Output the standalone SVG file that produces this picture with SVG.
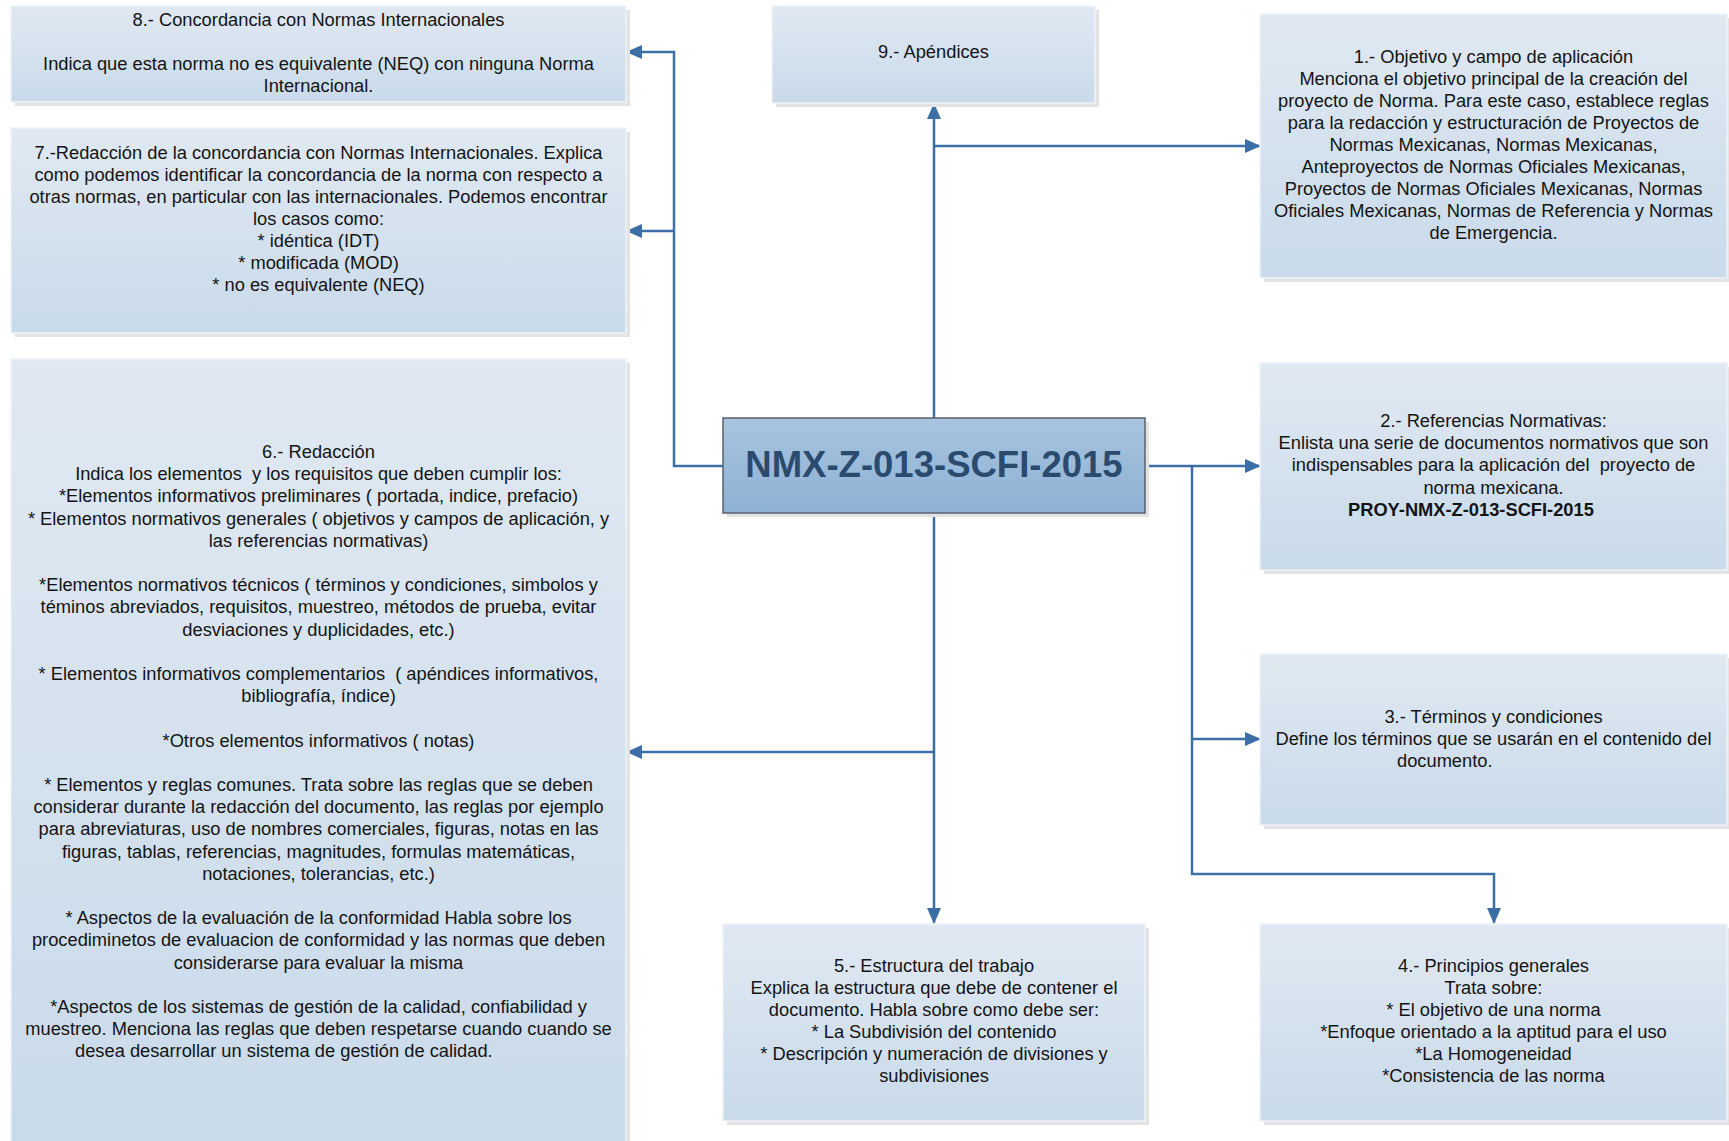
<svg xmlns="http://www.w3.org/2000/svg" width="1729" height="1141" viewBox="0 0 1729 1141">
  <defs>
    <linearGradient id="boxFill" x1="0" y1="0" x2="0" y2="1">
      <stop offset="0" stop-color="#e0e9f2"/>
      <stop offset="1" stop-color="#c9daea"/>
    </linearGradient>
    <linearGradient id="hubFill" x1="0" y1="0" x2="0" y2="1">
      <stop offset="0" stop-color="#a8c4df"/>
      <stop offset="1" stop-color="#8db1d4"/>
    </linearGradient>
    <marker id="arrow" markerUnits="userSpaceOnUse" markerWidth="16" markerHeight="16" viewBox="0 0 16 16" refX="15" refY="8" orient="auto">
      <path d="M0,1 L16,8 L0,15 Z" fill="#3d6fa6"/>
    </marker>
  </defs>
  <style>
    .shadow { fill: #e3e3e3; }
    .box { fill: url(#boxFill); stroke: #eef3f9; stroke-width: 1.5; }
    .hub { fill: url(#hubFill); stroke: #58616d; stroke-width: 1.5; }
    .t { font-family: "Liberation Sans", Arial, sans-serif; font-size: 18.3px; fill: #141414; text-anchor: middle; white-space: pre; }
    .ts { text-anchor: start; }
    .b { font-weight: bold; }
    .title { font-family: "Liberation Sans", Arial, sans-serif; font-size: 36.5px; font-weight: bold; fill: #2a4b6e; text-anchor: middle; }
    .link { fill: none; stroke: #3d6fa6; stroke-width: 2.5; }
  </style>

  <rect width="1729" height="1141" fill="#ffffff"/>

  <!-- connectors -->
  <g id="connectors">
    <path class="link" d="M723 466 H674 V52 H627" marker-end="url(#arrow)"/>
    <path class="link" d="M674 231 H627" marker-end="url(#arrow)"/>
    <path class="link" d="M934 418 V104" marker-end="url(#arrow)"/>
    <path class="link" d="M934 146 H1260" marker-end="url(#arrow)"/>
    <path class="link" d="M934 513 V923" marker-end="url(#arrow)"/>
    <path class="link" d="M934 752 H627" marker-end="url(#arrow)"/>
    <path class="link" d="M1145 466 H1260" marker-end="url(#arrow)"/>
    <path class="link" d="M1192 466 V874 H1494 V923" marker-end="url(#arrow)"/>
    <path class="link" d="M1192 739 H1260" marker-end="url(#arrow)"/>
  </g>

  <!-- central node -->
  <g id="hub">
    <rect class="shadow" x="727" y="422" width="422" height="95"/>
    <rect class="hub" x="723" y="418" width="422" height="95"/>
    <text class="title" x="934" y="477">NMX-Z-013-SCFI-2015</text>
  </g>

  <!-- 8: international concordance -->
  <g id="node8">
    <rect class="shadow" x="15" y="10" width="615" height="96"/>
    <rect class="box" x="11" y="6" width="615" height="96"/>
    <text class="t" x="318.5" y="26">8.- Concordancia con Normas Internacionales</text>
    <text class="t" x="318.5" y="70">Indica que esta norma no es equivalente (NEQ) con ninguna Norma</text>
    <text class="t" x="318.5" y="92">Internacional.</text>
  </g>

  <!-- 7: writing the concordance -->
  <g id="node7">
    <rect class="shadow" x="15" y="132" width="615" height="205"/>
    <rect class="box" x="11" y="128" width="615" height="205"/>
    <text class="t" x="318.5" y="158.5">7.-Redacción de la concordancia con Normas Internacionales. Explica</text>
    <text class="t" x="318.5" y="180.6">como podemos identificar la concordancia de la norma con respecto a</text>
    <text class="t" x="318.5" y="202.6">otras normas, en particular con las internacionales. Podemos encontrar</text>
    <text class="t" x="318.5" y="224.7">los casos como:</text>
    <text class="t" x="318.5" y="246.7">* idéntica (IDT)</text>
    <text class="t" x="318.5" y="268.8">* modificada (MOD)</text>
    <text class="t" x="318.5" y="290.8">* no es equivalente (NEQ)</text>
  </g>

  <!-- 6: drafting -->
  <g id="node6">
    <rect class="shadow" x="15" y="363" width="615" height="790"/>
    <rect class="box" x="11" y="359" width="615" height="790"/>
    <text class="t" x="318.5" y="458">6.- Redacción</text>
    <text class="t" x="318.5" y="480.2">Indica los elementos  y los requisitos que deben cumplir los:</text>
    <text class="t" x="318.5" y="502.4">*Elementos informativos preliminares ( portada, indice, prefacio)</text>
    <text class="t" x="318.5" y="524.6">* Elementos normativos generales ( objetivos y campos de aplicación, y</text>
    <text class="t" x="318.5" y="546.8">las referencias normativas)</text>
    <text class="t" x="318.5" y="591.2">*Elementos normativos técnicos ( términos y condiciones, simbolos y</text>
    <text class="t" x="318.5" y="613.4">téminos abreviados, requisitos, muestreo, métodos de prueba, evitar</text>
    <text class="t" x="318.5" y="635.6">desviaciones y duplicidades, etc.)</text>
    <text class="t" x="318.5" y="680">* Elementos informativos complementarios  ( apéndices informativos,</text>
    <text class="t" x="318.5" y="702.2">bibliografía, índice)</text>
    <text class="t" x="318.5" y="746.6">*Otros elementos informativos ( notas)</text>
    <text class="t" x="318.5" y="791">* Elementos y reglas comunes. Trata sobre las reglas que se deben</text>
    <text class="t" x="318.5" y="813.2">considerar durante la redacción del documento, las reglas por ejemplo</text>
    <text class="t" x="318.5" y="835.4">para abreviaturas, uso de nombres comerciales, figuras, notas en las</text>
    <text class="t" x="318.5" y="857.6">figuras, tablas, referencias, magnitudes, formulas matemáticas,</text>
    <text class="t" x="318.5" y="879.8">notaciones, tolerancias, etc.)</text>
    <text class="t" x="318.5" y="924.2">* Aspectos de la evaluación de la conformidad Habla sobre los</text>
    <text class="t" x="318.5" y="946.4">procediminetos de evaluacion de conformidad y las normas que deben</text>
    <text class="t" x="318.5" y="968.6">considerarse para evaluar la misma</text>
    <text class="t" x="318.5" y="1013">*Aspectos de los sistemas de gestión de la calidad, confiabilidad y</text>
    <text class="t" x="318.5" y="1035.2">muestreo. Menciona las reglas que deben respetarse cuando cuando se</text>
    <text class="t ts" x="75" y="1057.4">desea desarrollar un sistema de gestión de calidad.</text>
  </g>

  <!-- 9: appendices -->
  <g id="node9">
    <rect class="shadow" x="776" y="10" width="323" height="97"/>
    <rect class="box" x="772" y="6" width="323" height="97"/>
    <text class="t" x="933.5" y="58">9.- Apéndices</text>
  </g>

  <!-- 1: objective and scope -->
  <g id="node1">
    <rect class="shadow" x="1264" y="18" width="467" height="264"/>
    <rect class="box" x="1260" y="14" width="467" height="264"/>
    <text class="t" x="1493.5" y="62.5">1.- Objetivo y campo de aplicación</text>
    <text class="t" x="1493.5" y="84.6">Menciona el objetivo principal de la creación del</text>
    <text class="t" x="1493.5" y="106.6">proyecto de Norma. Para este caso, establece reglas</text>
    <text class="t" x="1493.5" y="128.7">para la redacción y estructuración de Proyectos de</text>
    <text class="t" x="1493.5" y="150.7">Normas Mexicanas, Normas Mexicanas,</text>
    <text class="t" x="1493.5" y="172.8">Anteproyectos de Normas Oficiales Mexicanas,</text>
    <text class="t" x="1493.5" y="194.8">Proyectos de Normas Oficiales Mexicanas, Normas</text>
    <text class="t" x="1493.5" y="216.9">Oficiales Mexicanas, Normas de Referencia y Normas</text>
    <text class="t" x="1493.5" y="238.9">de Emergencia.</text>
  </g>

  <!-- 2: normative references -->
  <g id="node2">
    <rect class="shadow" x="1264" y="367" width="467" height="207"/>
    <rect class="box" x="1260" y="363" width="467" height="207"/>
    <text class="t" x="1493.5" y="427">2.- Referencias Normativas:</text>
    <text class="t" x="1493.5" y="449">Enlista una serie de documentos normativos que son</text>
    <text class="t" x="1493.5" y="471">indispensables para la aplicación del  proyecto de</text>
    <text class="t" x="1493.5" y="493.5">norma mexicana.</text>
    <text class="t ts b" x="1348" y="516">PROY-NMX-Z-013-SCFI-2015</text>
  </g>

  <!-- 3: terms and conditions -->
  <g id="node3">
    <rect class="shadow" x="1264" y="658" width="467" height="171"/>
    <rect class="box" x="1260" y="654" width="467" height="171"/>
    <text class="t" x="1493.5" y="723">3.- Términos y condiciones</text>
    <text class="t" x="1493.5" y="745">Define los términos que se usarán en el contenido del</text>
    <text class="t ts" x="1397" y="767">documento.</text>
  </g>

  <!-- 4: general principles -->
  <g id="node4">
    <rect class="shadow" x="1264" y="928" width="467" height="197"/>
    <rect class="box" x="1260" y="924" width="467" height="197"/>
    <text class="t" x="1493.5" y="972">4.- Principios generales</text>
    <text class="t" x="1493.5" y="994">Trata sobre:</text>
    <text class="t" x="1493.5" y="1016">* El objetivo de una norma</text>
    <text class="t" x="1493.5" y="1038">*Enfoque orientado a la aptitud para el uso</text>
    <text class="t" x="1493.5" y="1060">*La Homogeneidad</text>
    <text class="t" x="1493.5" y="1082">*Consistencia de las norma</text>
  </g>

  <!-- 5: document structure -->
  <g id="node5">
    <rect class="shadow" x="727" y="928" width="422" height="197"/>
    <rect class="box" x="723" y="924" width="422" height="197"/>
    <text class="t" x="934" y="972">5.- Estructura del trabajo</text>
    <text class="t" x="934" y="994">Explica la estructura que debe de contener el</text>
    <text class="t" x="934" y="1016">documento. Habla sobre como debe ser:</text>
    <text class="t" x="934" y="1038">* La Subdivisión del contenido</text>
    <text class="t" x="934" y="1060">* Descripción y numeración de divisiones y</text>
    <text class="t" x="934" y="1082">subdivisiones</text>
  </g>
</svg>
